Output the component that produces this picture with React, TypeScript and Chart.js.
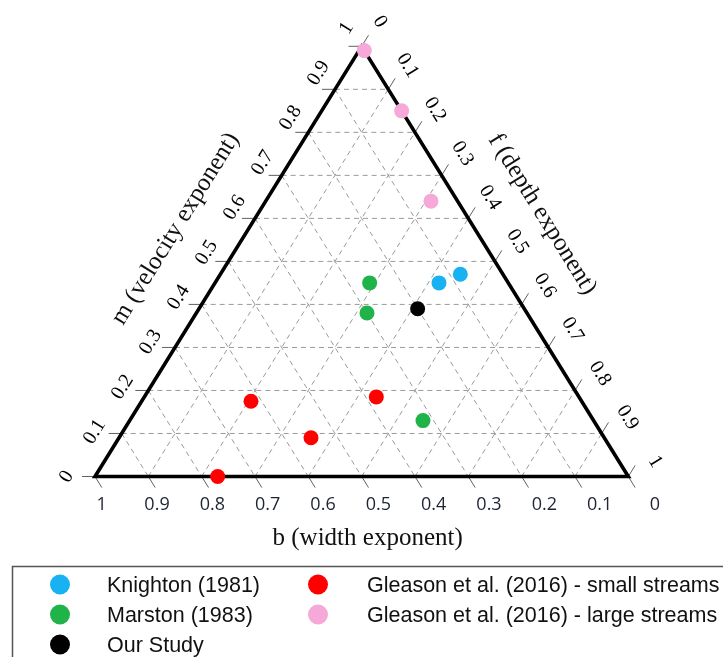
import { useEffect, useRef } from "react";
import { Chart, registerables } from "chart.js";

Chart.register(...registerables);

// Series names and colours
const seriesNames = [
  "Knighton (1981)",
  "Marston (1983)",
  "Our Study",
  "Gleason et al. (2016) - small streams",
  "Gleason et al. (2016) - large streams",
];
const seriesColors = ["#18b2f2", "#1fb34a", "#000000", "#ff0000", "#f6a9d8"];

// Hydraulic geometry exponents: b (width), m (velocity), f (depth)
const knightonB = [0.08, 0.13];
const knightonM = [0.47, 0.45];
const knightonF = [0.45, 0.42];

const marstonB = [0.26, 0.3, 0.32];
const marstonM = [0.45, 0.38, 0.13];
const marstonF = [0.29, 0.32, 0.55];

const ourStudyB = [0.2];
const ourStudyM = [0.39];
const ourStudyF = [0.41];

const smallStreamsB = [0.62, 0.38, 0.55, 0.77];
const smallStreamsM = [0.175, 0.185, 0.09, 0.0];
const smallStreamsF = [0.205, 0.435, 0.36, 0.23];

const largeStreamsB = [0.0, 0.0, 0.05];
const largeStreamsM = [0.99, 0.85, 0.64];
const largeStreamsF = [0.01, 0.15, 0.31];

// Axis ticks
const tickValues = [0, 0.1, 0.2, 0.3, 0.4, 0.5, 0.6, 0.7, 0.8, 0.9, 1];
const tickLabels = ["0", "0.1", "0.2", "0.3", "0.4", "0.5", "0.6", "0.7", "0.8", "0.9", "1"];
const gridValues = [0.1, 0.2, 0.3, 0.4, 0.5, 0.6, 0.7, 0.8, 0.9];

const axisTitleB = "b (width exponent)";
const axisTitleM = "m (velocity exponent)";
const axisTitleF = "f (depth exponent)";

// Ternary -> cartesian (unit triangle: b=1 bottom-left, f=1 bottom-right, m=1 top)
function toXY(b: number, m: number, f: number) {
  const s = b + m + f;
  return { x: (f + m / 2) / s, y: m / s };
}

function buildPoints(bs: number[], ms: number[], fs: number[]) {
  return bs.map((b, i) => toXY(b, ms[i], fs[i]));
}

const seriesPoints = [
  buildPoints(knightonB, knightonM, knightonF),
  buildPoints(marstonB, marstonM, marstonF),
  buildPoints(ourStudyB, ourStudyM, ourStudyF),
  buildPoints(smallStreamsB, smallStreamsM, smallStreamsF),
  buildPoints(largeStreamsB, largeStreamsM, largeStreamsF),
];

const SERIF = "'Liberation Serif', 'Times New Roman', serif";
const SANS = "'Liberation Sans', Arial, sans-serif";

function lerp(a: number, b: number, t: number) {
  return a + (b - a) * t;
}

const ternaryPlugin = {
  id: "ternaryFrame",
  beforeDatasetsDraw(chart: any) {
    const ctx: CanvasRenderingContext2D = chart.ctx;
    const xs = chart.scales.x;
    const ys = chart.scales.y;
    const P = (b: number, m: number, f: number): [number, number] => {
      const p = toXY(b, m, f);
      return [xs.getPixelForValue(p.x), ys.getPixelForValue(p.y)];
    };
    const BL = P(1, 0, 0);
    const BR = P(0, 0, 1);
    const T = P(0, 1, 0);

    const unit = (a: [number, number], c: [number, number]): [number, number] => {
      const dx = c[0] - a[0];
      const dy = c[1] - a[1];
      const l = Math.hypot(dx, dy);
      return [dx / l, dy / l];
    };
    const dirLeft = unit(BL, T); // up-right
    const dirRight = unit(T, BR); // down-right
    const angLeft = Math.atan2(dirLeft[1], dirLeft[0]);
    const angRight = Math.atan2(dirRight[1], dirRight[0]);

    ctx.save();

    // dashed grid
    ctx.strokeStyle = "#9a9a9a";
    ctx.lineWidth = 1;
    ctx.setLineDash([5, 4]);
    const line = (a: [number, number], c: [number, number]) => {
      ctx.beginPath();
      ctx.moveTo(a[0], a[1]);
      ctx.lineTo(c[0], c[1]);
      ctx.stroke();
    };
    gridValues.forEach((v) => {
      line(P(1 - v, v, 0), P(0, v, 1 - v));
      line(P(v, 1 - v, 0), P(v, 0, 1 - v));
      line(P(1 - v, 0, v), P(0, 1 - v, v));
    });
    ctx.setLineDash([]);

    // ticks
    ctx.strokeStyle = "#606060";
    ctx.lineWidth = 1;
    const tl = 13;
    tickValues.forEach((v) => {
      const pm = P(1 - v, v, 0);
      line(pm, [pm[0] - tl, pm[1]]);
      const pb = P(v, 0, 1 - v);
      line(pb, [pb[0] + dirRight[0] * tl, pb[1] + dirRight[1] * tl]);
      const pf = P(0, 1 - v, v);
      line(pf, [pf[0] + dirLeft[0] * tl, pf[1] + dirLeft[1] * tl]);
    });

    // triangle frame
    ctx.strokeStyle = "#000";
    ctx.lineWidth = 3.6;
    ctx.lineJoin = "miter";
    ctx.beginPath();
    ctx.moveTo(BL[0], BL[1]);
    ctx.lineTo(BR[0], BR[1]);
    ctx.lineTo(T[0], T[1]);
    ctx.closePath();
    ctx.stroke();

    const drawText = (text: string, x: number, y: number, ang: number, font: string, color: string) => {
      ctx.save();
      ctx.translate(x, y);
      ctx.rotate(ang);
      ctx.font = font;
      ctx.fillStyle = color;
      ctx.textAlign = "center";
      ctx.textBaseline = "middle";
      ctx.fillText(text, 0, 0);
      ctx.restore();
    };

    // tick labels
    tickValues.forEach((v, i) => {
      const label = tickLabels[i];
      const pm = P(1 - v, v, 0);
      drawText(label, pm[0] + lerp(-28.3, -15, v), pm[1] + lerp(0.2, -18, v), angLeft, `20px ${SERIF}`, "#000");
      const pb = P(v, 0, 1 - v);
      drawText(label, pb[0] + lerp(26.7, 6.7, v), pb[1] + 28.5, 0, `18px 'Open Sans', ${SANS}`, "#1e2433");
      const pf = P(0, 1 - v, v);
      drawText(label, pf[0] + lerp(18.3, 26.7, v), pf[1] + lerp(-24.6, -14.8, v), angRight, `20px ${SERIF}`, "#000");
    });

    // axis titles
    const titleFont = `25px ${SERIF}`;
    drawText(axisTitleB, (BL[0] + BR[0]) / 2 + 6, BL[1] + 62, 0, titleFont, "#111");
    {
      const t = 0.5;
      const cx = lerp(BL[0], T[0], t) - Math.abs(dirLeft[1]) * 62;
      const cy = lerp(BL[1], T[1], t) - Math.abs(dirLeft[0]) * 62;
      drawText(axisTitleM, cx, cy, angLeft, titleFont, "#111");
    }
    {
      const t = 0.47;
      const cx = lerp(T[0], BR[0], t) + Math.abs(dirRight[1]) * 65;
      const cy = lerp(T[1], BR[1], t) - Math.abs(dirRight[0]) * 65;
      drawText(axisTitleF, cx, cy, angRight, titleFont, "#111");
    }

    ctx.restore();
  },
  afterDraw(chart: any) {
    const ctx: CanvasRenderingContext2D = chart.ctx;
    ctx.save();
    // legend box
    ctx.strokeStyle = "#555";
    ctx.lineWidth = 1.5;
    ctx.strokeRect(12.5, 566.5, 760, 140);

    const rowsY = [584.5, 614.5, 644.5];
    const colMarkerX = [60, 318];
    const colTextX = [107, 367];
    ctx.font = `21.5px ${SANS}`;
    ctx.textBaseline = "middle";
    ctx.textAlign = "left";
    chart.data.datasets.forEach((ds: any, i: number) => {
      const col = Math.floor(i / 3);
      const row = i % 3;
      const y = rowsY[row];
      ctx.beginPath();
      ctx.fillStyle = ds.backgroundColor;
      ctx.arc(colMarkerX[col], y, 10, 0, Math.PI * 2);
      ctx.fill();
      ctx.fillStyle = "#111";
      ctx.fillText(ds.label, colTextX[col], y + 2);
    });
    ctx.restore();
  },
};

export default function App() {
  const canvasRef = useRef<HTMLCanvasElement | null>(null);

  useEffect(() => {
    if (!canvasRef.current) return;
    const chart = new Chart(canvasRef.current, {
      type: "scatter",
      data: {
        datasets: seriesNames.map((name, i) => ({
          label: name,
          data: seriesPoints[i],
          backgroundColor: seriesColors[i],
          borderWidth: 0,
          pointRadius: 7.5,
          pointHoverRadius: 7.5,
          clip: false as any,
        })),
      },
      options: {
        animation: false,
        responsive: false,
        maintainAspectRatio: false,
        events: [],
        layout: { padding: { left: 95, right: 94.7, top: 46.3, bottom: 180.5 } },
        scales: {
          x: { type: "linear", min: 0, max: 1, display: false },
          y: { type: "linear", min: 0, max: 1, display: false },
        },
        plugins: {
          legend: { display: false },
          tooltip: { enabled: false },
        },
      },
      plugins: [ternaryPlugin],
    });
    return () => chart.destroy();
  }, []);

  return (
    <div style={{ position: "fixed", left: 0, top: 0, width: 723, height: 657, background: "#fff" }}>
      <canvas ref={canvasRef} width={723} height={657} style={{ display: "block" }} />
    </div>
  );
}
